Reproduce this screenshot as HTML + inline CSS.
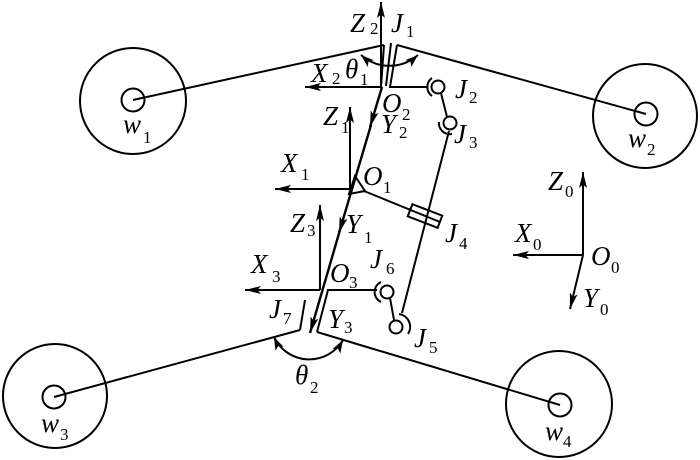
<!DOCTYPE html>
<html><head><meta charset="utf-8"><style>
html,body{margin:0;padding:0;background:#fff;}
svg{display:block;}
text{font-family:"Liberation Serif",serif;fill:#000;}
.m{font-size:27px;font-style:italic;}
.s{font-size:17px;}
</style></head><body>
<svg width="700" height="460" viewBox="0 0 700 460" xmlns="http://www.w3.org/2000/svg">
<defs>
<marker id="a" viewBox="0 0 16 8" refX="16" refY="4" markerWidth="16" markerHeight="8" markerUnits="userSpaceOnUse" orient="auto-start-reverse">
<path d="M0,0 L16,4 L0,8 L3.5,4 z" fill="#000"/></marker>
<marker id="b" viewBox="0 0 13 9" refX="13" refY="4.5" markerWidth="13" markerHeight="9" markerUnits="userSpaceOnUse" orient="auto-start-reverse">
<path d="M0,0 L13,4.5 L0,9 L3,4.5 z" fill="#000"/></marker>
</defs>
<g fill="none" stroke="#000" stroke-width="2">
<!-- wheels -->
<circle cx="133" cy="101" r="53"/><circle cx="133" cy="100" r="11.5"/>
<circle cx="645" cy="116" r="52"/><circle cx="646" cy="114" r="11.5"/>
<circle cx="55" cy="396" r="52"/><circle cx="54" cy="397" r="11.5"/>
<circle cx="559" cy="404" r="53"/><circle cx="560" cy="405" r="11.5"/>
<!-- links to wheels -->
<line x1="133" y1="100" x2="384" y2="45"/>
<line x1="397" y1="45" x2="646" y2="114"/>
<line x1="300" y1="330" x2="54" y2="397"/>
<line x1="317" y1="332" x2="560" y2="405"/>
<!-- J1 -->
<line x1="384" y1="45" x2="381" y2="87"/>
<line x1="391" y1="43" x2="386" y2="86"/>
<polyline points="397,45 390,87 428,87"/>
<!-- frame 2 -->
<line x1="381" y1="87" x2="381" y2="2" marker-end="url(#a)"/>
<line x1="381" y1="87" x2="305" y2="87" marker-end="url(#a)"/>
<!-- main diagonal -->
<g stroke-width="2.4">
<line x1="382" y1="87" x2="370" y2="127" marker-end="url(#a)"/>
<line x1="371" y1="125" x2="339" y2="233" marker-end="url(#a)"/>
<line x1="340" y1="230" x2="310" y2="333" marker-end="url(#a)"/>
</g>
<!-- frame 1 -->
<line x1="350" y1="189" x2="350" y2="107" marker-end="url(#a)"/>
<line x1="350" y1="189" x2="275" y2="189" marker-end="url(#a)"/>
<polygon points="355,176 365,191 349,194"/>
<!-- O1 to J4 -->
<line x1="364" y1="191" x2="440" y2="222"/>
<g transform="translate(425,216) rotate(21)"><rect x="-16" y="-6.5" width="32" height="13"/></g>
<!-- J3-J5 long link -->
<line x1="449" y1="131" x2="402" y2="313"/>
<!-- J2 -->
<circle cx="438" cy="87" r="6.5"/>
<path d="M432,78 A11,11 0 0 0 432,96"/>
<line x1="441" y1="93" x2="447" y2="117"/>
<!-- J3 -->
<circle cx="450" cy="123" r="6.5"/>
<path d="M452,134 A11,11 0 0 1 439,122"/>
<!-- frame 3 -->
<line x1="320" y1="290" x2="320" y2="205" marker-end="url(#a)"/>
<line x1="320" y1="290" x2="245" y2="290" marker-end="url(#a)"/>
<!-- J7 -->
<line x1="305" y1="300" x2="300" y2="330"/>
<polyline points="317,332 328,290 377,290"/>
<!-- J6 -->
<circle cx="387" cy="292" r="6.5"/>
<path d="M381,282 A11,11 0 0 0 381,302"/>
<line x1="390" y1="298" x2="394" y2="320"/>
<!-- J5 -->
<circle cx="396" cy="327" r="6.5"/>
<path d="M399,314 A13,13 0 0 1 408,334"/>
<!-- theta arcs -->
<path d="M361,55 A43,43 0 0 0 418,55" marker-start="url(#b)" marker-end="url(#b)"/>
<path d="M274,337 A39,39 0 0 0 343,340" marker-start="url(#b)" marker-end="url(#b)"/>
<!-- frame 0 -->
<line x1="583" y1="255" x2="583" y2="172" marker-end="url(#a)"/>
<line x1="583" y1="255" x2="513" y2="255" marker-end="url(#a)"/>
<line x1="583" y1="255" x2="570" y2="309" marker-end="url(#a)"/>
</g>
<!-- labels -->
<text class="m" x="350" y="32">Z</text><text class="s" x="370" y="34">2</text>
<text class="m" x="391" y="32">J</text><text class="s" x="406" y="37">1</text>
<text class="m" x="311" y="82">X</text><text class="s" x="332" y="84">2</text>
<text class="m" x="345" y="78">θ</text><text class="s" x="360" y="85">1</text>
<text class="m" x="382" y="112">O</text><text class="s" x="402" y="120">2</text>
<text class="m" x="381" y="133">Y</text><text class="s" x="399" y="138">2</text>
<text class="m" x="323" y="125">Z</text><text class="s" x="341" y="133">1</text>
<text class="m" x="455" y="98">J</text><text class="s" x="469" y="103">2</text>
<text class="m" x="454" y="143">J</text><text class="s" x="469" y="148">3</text>
<text class="m" x="281" y="172">X</text><text class="s" x="301" y="180">1</text>
<text class="m" x="363" y="185">O</text><text class="s" x="383" y="193">1</text>
<text class="m" x="290" y="232">Z</text><text class="s" x="307" y="236">3</text>
<text class="m" x="346" y="233">Y</text><text class="s" x="364" y="243">1</text>
<text class="m" x="445" y="242">J</text><text class="s" x="459" y="249">4</text>
<text class="m" x="251" y="273">X</text><text class="s" x="272" y="282">3</text>
<text class="m" x="330" y="282">O</text><text class="s" x="349" y="288">3</text>
<text class="m" x="370" y="268">J</text><text class="s" x="386" y="274">6</text>
<text class="m" x="269" y="318">J</text><text class="s" x="283" y="324">7</text>
<text class="m" x="328" y="328">Y</text><text class="s" x="344" y="333">3</text>
<text class="m" x="414" y="347">J</text><text class="s" x="429" y="353">5</text>
<text class="m" x="295" y="384">θ</text><text class="s" x="310" y="393">2</text>
<text class="m" x="123" y="133">w</text><text class="s" x="143" y="143">1</text>
<text class="m" x="628" y="147">w</text><text class="s" x="647" y="155">2</text>
<text class="m" x="41" y="432">w</text><text class="s" x="60" y="440">3</text>
<text class="m" x="545" y="440">w</text><text class="s" x="563" y="447">4</text>
<text class="m" x="548" y="190">Z</text><text class="s" x="565" y="197">0</text>
<text class="m" x="515" y="242">X</text><text class="s" x="533" y="250">0</text>
<text class="m" x="591" y="265">O</text><text class="s" x="611" y="273">0</text>
<text class="m" x="583" y="307">Y</text><text class="s" x="600" y="315">0</text>
</svg>
</body></html>
